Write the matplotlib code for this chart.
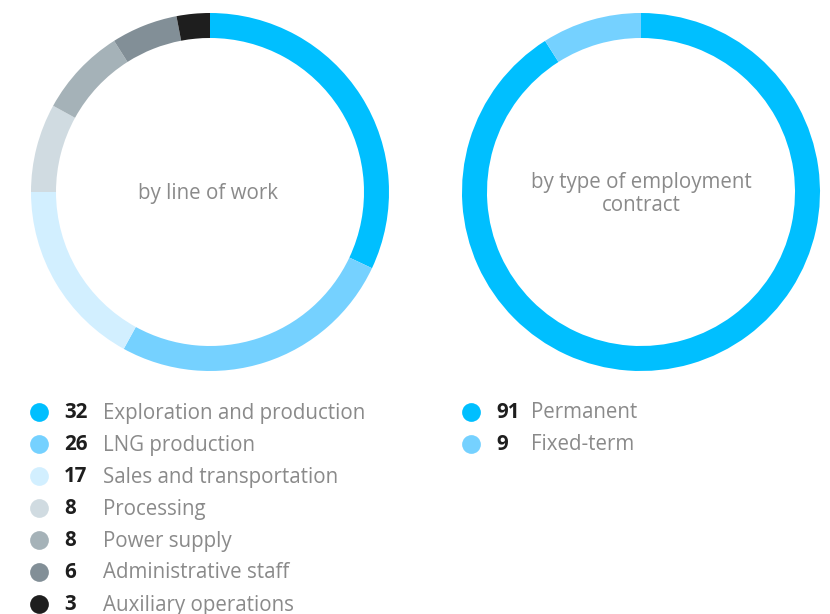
import matplotlib
matplotlib.use("Agg")
import matplotlib.pyplot as plt

# Data
work_labels = ["Exploration and production", "LNG production", "Sales and transportation",
               "Processing", "Power supply", "Administrative staff", "Auxiliary operations"]
work_values = [32, 26, 17, 8, 8, 6, 3]
work_colors = ["#00BFFF", "#75D1FF", "#D2EFFF", "#D0DBE1", "#A5B2B8", "#828F97", "#1E1E1E"]

contract_labels = ["Permanent", "Fixed-term"]
contract_values = [91, 9]
contract_colors = ["#00BFFF", "#75D1FF"]

W, H = 830, 614
fig = plt.figure(figsize=(W / 100, H / 100), dpi=100)
ax = fig.add_axes([0, 0, 1, 1])

FONT = "Open Sans"
LABEL_C = "#8a8a8a"
NUM_C = "#1e1e1e"
FS = 14.8

def Y(y):
    return H - y

R = 179
RING = 25
ax.pie(work_values, colors=work_colors, startangle=90, counterclock=False,
       center=(210, Y(192)), radius=R, wedgeprops=dict(width=RING, linewidth=0))
ax.pie(contract_values, colors=contract_colors, startangle=90, counterclock=False,
       center=(641, Y(192)), radius=R, wedgeprops=dict(width=RING, linewidth=0))

ax.set_xlim(0, W)
ax.set_ylim(0, H)
ax.set_aspect("equal")
ax.axis("off")

ax.text(208, Y(193), "by line of work", ha="center", va="center",
        fontsize=FS, color=LABEL_C, family=FONT)
ax.text(641, Y(194), "by type of employment\ncontract", ha="center", va="center",
        fontsize=FS, color=LABEL_C, family=FONT, linespacing=1.1)

# Legends
def legend(x_marker, x_num, x_lab, y0, labels, values, colors):
    for i, (lab, val, col) in enumerate(zip(labels, values, colors)):
        y = Y(y0 + 32 * i)
        ax.plot([x_marker], [y], marker="o", markersize=13.5, color=col,
                markeredgewidth=0, linestyle="none")
        ax.text(x_num, y - 1, str(val), ha="left", va="center", fontsize=FS,
                fontweight="bold", color=NUM_C, family=FONT)
        ax.text(x_lab, y - 1, lab, ha="left", va="center", fontsize=FS,
                color=LABEL_C, family=FONT)

legend(39, 64, 103, 412, work_labels, work_values, work_colors)
legend(471, 496, 531, 412, contract_labels, contract_values, contract_colors)

fig.savefig("out.png", dpi=100, facecolor="white")
